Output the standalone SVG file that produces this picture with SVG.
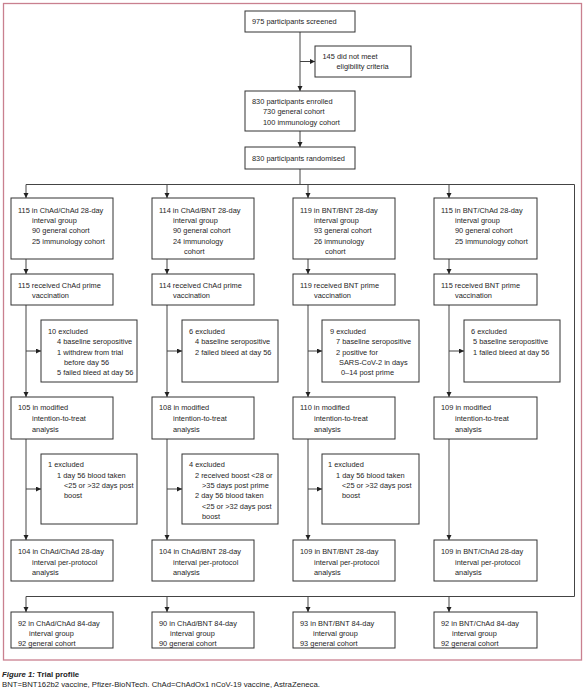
<svg xmlns="http://www.w3.org/2000/svg" width="586" height="690" viewBox="0 0 586 690">
<style>
  .bg{fill:#ffffff}
  .frame{fill:none;stroke:#c9808f;stroke-width:1.3}
  .box{fill:#ffffff;stroke:#333333;stroke-width:1}
  .t{font-family:"Liberation Sans",Arial,sans-serif;font-size:7.4px;fill:#1e1e1e}
  .c{fill:none;stroke:#444444;stroke-width:1}
  .cap{font-family:"Liberation Sans",Arial,sans-serif;font-size:7.75px;fill:#222222}
  .capb{font-family:"Liberation Sans",Arial,sans-serif;font-size:7.8px;font-weight:bold;fill:#222222}
</style>
<defs>
  <marker id="ah" markerUnits="userSpaceOnUse" markerWidth="6" markerHeight="6" refX="5" refY="2.5" orient="auto">
    <path d="M0,0 L5,2.5 L0,5 z" fill="#222222"/>
  </marker>
</defs>
<rect class="bg" x="0" y="0" width="586" height="690"/>
<rect class="frame" x="3.5" y="3.5" width="578" height="656.5"/>

<g id="connectors">
  <path class="c" d="M300,32 V91" marker-end="url(#ah)"/>
  <path class="c" d="M300,61.5 H315" marker-end="url(#ah)"/>
  <path class="c" d="M300,131 V147" marker-end="url(#ah)"/>
  <path class="c" d="M300,169 V184.5"/>
  <path class="c" d="M26,184.5 H574.5 V596.5 H26"/>
  <path class="c" d="M26,184.5 V198" marker-end="url(#ah)"/>
  <path class="c" d="M167,184.5 V198" marker-end="url(#ah)"/>
  <path class="c" d="M308,184.5 V198" marker-end="url(#ah)"/>
  <path class="c" d="M449,184.5 V198" marker-end="url(#ah)"/>
  <path class="c" d="M26,259 V274" marker-end="url(#ah)"/>
  <path class="c" d="M167,259 V274" marker-end="url(#ah)"/>
  <path class="c" d="M308,259 V274" marker-end="url(#ah)"/>
  <path class="c" d="M449,259 V274" marker-end="url(#ah)"/>
  <path class="c" d="M26,305 V397" marker-end="url(#ah)"/>
  <path class="c" d="M167,305 V397" marker-end="url(#ah)"/>
  <path class="c" d="M308,305 V397" marker-end="url(#ah)"/>
  <path class="c" d="M449,305 V397" marker-end="url(#ah)"/>
  <path class="c" d="M26,351 H41" marker-end="url(#ah)"/>
  <path class="c" d="M167,351 H182" marker-end="url(#ah)"/>
  <path class="c" d="M308,351 H322" marker-end="url(#ah)"/>
  <path class="c" d="M449,351 H464" marker-end="url(#ah)"/>
  <path class="c" d="M26,439 V540" marker-end="url(#ah)"/>
  <path class="c" d="M167,439 V540" marker-end="url(#ah)"/>
  <path class="c" d="M308,439 V540" marker-end="url(#ah)"/>
  <path class="c" d="M449,439 V540" marker-end="url(#ah)"/>
  <path class="c" d="M26,489 H41" marker-end="url(#ah)"/>
  <path class="c" d="M167,489 H182" marker-end="url(#ah)"/>
  <path class="c" d="M308,489 H322" marker-end="url(#ah)"/>
  <path class="c" d="M26,596.5 V612" marker-end="url(#ah)"/>
  <path class="c" d="M167,596.5 V612" marker-end="url(#ah)"/>
  <path class="c" d="M308,596.5 V612" marker-end="url(#ah)"/>
  <path class="c" d="M449,596.5 V612" marker-end="url(#ah)"/>
</g>

<g id="screened">
  <rect class="box" x="245" y="11" width="110" height="21"/>
  <text class="t" x="252" y="24">975 participants screened</text>
</g>
<g id="ineligible">
  <rect class="box" x="315" y="46" width="96" height="31"/>
  <text class="t" x="322.5" y="58.5">145 did not meet</text>
  <text class="t" x="336.5" y="68.8">eligibility criteria</text>
</g>
<g id="enrolled">
  <rect class="box" x="245" y="91" width="110" height="40"/>
  <text class="t" x="252" y="103.5">830 participants enrolled</text>
  <text class="t" x="263" y="114">730 general cohort</text>
  <text class="t" x="263" y="124.5">100 immunology cohort</text>
</g>
<g id="randomised">
  <rect class="box" x="245" y="147" width="110" height="22"/>
  <text class="t" x="252" y="161">830 participants randomised</text>
</g>

<!-- Column 1 -->
<g id="g1-group">
  <rect class="box" x="11" y="198" width="102" height="61"/>
  <text class="t" x="18" y="213">115 in ChAd/ChAd 28-day</text>
  <text class="t" x="32" y="223">interval group</text>
  <text class="t" x="32" y="233">90 general cohort</text>
  <text class="t" x="32" y="243.5">25 immunology cohort</text>
</g>
<g id="g1-prime">
  <rect class="box" x="11" y="274" width="102" height="31"/>
  <text class="t" x="18" y="288">115 received ChAd prime</text>
  <text class="t" x="32" y="298">vaccination</text>
</g>
<g id="g1-excl1">
  <rect class="box" x="41" y="320" width="96" height="62"/>
  <text class="t" x="48" y="333.5">10 excluded</text>
  <text class="t" x="57" y="344.3">4 baseline seropositive</text>
  <text class="t" x="57" y="354.5">1 withdrew from trial</text>
  <text class="t" x="64" y="364.7">before day 56</text>
  <text class="t" x="57" y="375">5 failed bleed at day 56</text>
</g>
<g id="g1-mitt">
  <rect class="box" x="11" y="397" width="102" height="42"/>
  <text class="t" x="18" y="410">105 in modified</text>
  <text class="t" x="32" y="421">intention-to-treat</text>
  <text class="t" x="32" y="431.5">analysis</text>
</g>
<g id="g1-excl2">
  <rect class="box" x="41" y="454" width="96" height="70"/>
  <text class="t" x="48" y="467">1 excluded</text>
  <text class="t" x="57" y="477.5">1 day 56 blood taken</text>
  <text class="t" x="64" y="488">&lt;25 or &gt;32 days post</text>
  <text class="t" x="64" y="498">boost</text>
</g>
<g id="g1-pp">
  <rect class="box" x="11" y="540" width="102" height="41"/>
  <text class="t" x="18" y="554">104 in ChAd/ChAd 28-day</text>
  <text class="t" x="32" y="564.5">interval per-protocol</text>
  <text class="t" x="32" y="574.5">analysis</text>
</g>
<g id="g1-84">
  <rect class="box" x="11" y="612" width="102" height="36"/>
  <text class="t" x="18" y="625.5">92 in ChAd/ChAd 84-day</text>
  <text class="t" x="29" y="636">interval group</text>
  <text class="t" x="18" y="646">92 general cohort</text>
</g>

<!-- Column 2 -->
<g id="g2-group">
  <rect class="box" x="152" y="198" width="102" height="61"/>
  <text class="t" x="159" y="213">114 in ChAd/BNT 28-day</text>
  <text class="t" x="173" y="223">interval group</text>
  <text class="t" x="173" y="233">90 general cohort</text>
  <text class="t" x="173" y="243.5">24 immunology</text>
  <text class="t" x="184" y="253.5">cohort</text>
</g>
<g id="g2-prime">
  <rect class="box" x="152" y="274" width="102" height="31"/>
  <text class="t" x="159" y="288">114 received ChAd prime</text>
  <text class="t" x="173" y="298">vaccination</text>
</g>
<g id="g2-excl1">
  <rect class="box" x="182" y="320" width="96" height="62"/>
  <text class="t" x="189" y="333.5">6 excluded</text>
  <text class="t" x="195" y="344.3">4 baseline seropositive</text>
  <text class="t" x="195" y="354.5">2 failed bleed at day 56</text>
</g>
<g id="g2-mitt">
  <rect class="box" x="152" y="397" width="102" height="42"/>
  <text class="t" x="159" y="410">108 in modified</text>
  <text class="t" x="173" y="421">intention-to-treat</text>
  <text class="t" x="173" y="431.5">analysis</text>
</g>
<g id="g2-excl2">
  <rect class="box" x="182" y="454" width="96" height="70"/>
  <text class="t" x="189" y="467">4 excluded</text>
  <text class="t" x="195" y="477.5">2 received boost &lt;28 or</text>
  <text class="t" x="202" y="488">&gt;35 days post prime</text>
  <text class="t" x="195" y="498">2 day 56 blood taken</text>
  <text class="t" x="202" y="508.5">&lt;25 or &gt;32 days post</text>
  <text class="t" x="202" y="518.5">boost</text>
</g>
<g id="g2-pp">
  <rect class="box" x="152" y="540" width="102" height="41"/>
  <text class="t" x="159" y="554">104 in ChAd/BNT 28-day</text>
  <text class="t" x="173" y="564.5">interval per-protocol</text>
  <text class="t" x="173" y="574.5">analysis</text>
</g>
<g id="g2-84">
  <rect class="box" x="152" y="612" width="102" height="36"/>
  <text class="t" x="159" y="625.5">90 in ChAd/BNT 84-day</text>
  <text class="t" x="170" y="636">interval group</text>
  <text class="t" x="159" y="646">90 general cohort</text>
</g>

<!-- Column 3 -->
<g id="g3-group">
  <rect class="box" x="293" y="198" width="102" height="61"/>
  <text class="t" x="300" y="213">119 in BNT/BNT 28-day</text>
  <text class="t" x="314" y="223">interval group</text>
  <text class="t" x="314" y="233">93 general cohort</text>
  <text class="t" x="314" y="243.5">26 immunology</text>
  <text class="t" x="325" y="253.5">cohort</text>
</g>
<g id="g3-prime">
  <rect class="box" x="293" y="274" width="102" height="31"/>
  <text class="t" x="300" y="288">119 received BNT prime</text>
  <text class="t" x="314" y="298">vaccination</text>
</g>
<g id="g3-excl1">
  <rect class="box" x="322" y="320" width="97" height="62"/>
  <text class="t" x="330" y="333.5">9 excluded</text>
  <text class="t" x="336" y="344.3">7 baseline seropositive</text>
  <text class="t" x="336" y="354.5">2 positive for</text>
  <text class="t" x="339" y="364.7">SARS-CoV-2 in days</text>
  <text class="t" x="341" y="375">0–14 post prime</text>
</g>
<g id="g3-mitt">
  <rect class="box" x="293" y="397" width="102" height="42"/>
  <text class="t" x="300" y="410">110 in modified</text>
  <text class="t" x="314" y="421">intention-to-treat</text>
  <text class="t" x="314" y="431.5">analysis</text>
</g>
<g id="g3-excl2">
  <rect class="box" x="322" y="454" width="97" height="70"/>
  <text class="t" x="328" y="467">1 excluded</text>
  <text class="t" x="336" y="477.5">1 day 56 blood taken</text>
  <text class="t" x="342" y="488">&lt;25 or &gt;32 days post</text>
  <text class="t" x="342" y="498">boost</text>
</g>
<g id="g3-pp">
  <rect class="box" x="293" y="540" width="102" height="41"/>
  <text class="t" x="300" y="554">109 in BNT/BNT 28-day</text>
  <text class="t" x="314" y="564.5">interval per-protocol</text>
  <text class="t" x="314" y="574.5">analysis</text>
</g>
<g id="g3-84">
  <rect class="box" x="293" y="612" width="102" height="36"/>
  <text class="t" x="300" y="625.5">93 in BNT/BNT 84-day</text>
  <text class="t" x="313" y="636">interval group</text>
  <text class="t" x="300" y="646">93 general cohort</text>
</g>

<!-- Column 4 -->
<g id="g4-group">
  <rect class="box" x="434" y="198" width="103" height="61"/>
  <text class="t" x="441" y="213">115 in BNT/ChAd 28-day</text>
  <text class="t" x="455" y="223">interval group</text>
  <text class="t" x="455" y="233">90 general cohort</text>
  <text class="t" x="455" y="243.5">25 immunology cohort</text>
</g>
<g id="g4-prime">
  <rect class="box" x="434" y="274" width="103" height="31"/>
  <text class="t" x="441" y="288">115 received BNT prime</text>
  <text class="t" x="455" y="298">vaccination</text>
</g>
<g id="g4-excl1">
  <rect class="box" x="464" y="320" width="96" height="62"/>
  <text class="t" x="471" y="333.5">6 excluded</text>
  <text class="t" x="473" y="344.3">5 baseline seropositive</text>
  <text class="t" x="473" y="354.5">1 failed bleed at day 56</text>
</g>
<g id="g4-mitt">
  <rect class="box" x="434" y="397" width="103" height="42"/>
  <text class="t" x="441" y="410">109 in modified</text>
  <text class="t" x="455" y="421">intention-to-treat</text>
  <text class="t" x="455" y="431.5">analysis</text>
</g>
<g id="g4-pp">
  <rect class="box" x="434" y="540" width="103" height="41"/>
  <text class="t" x="441" y="554">109 in BNT/ChAd 28-day</text>
  <text class="t" x="455" y="564.5">interval per-protocol</text>
  <text class="t" x="455" y="574.5">analysis</text>
</g>
<g id="g4-84">
  <rect class="box" x="434" y="612" width="103" height="36"/>
  <text class="t" x="441" y="625.5">92 in BNT/ChAd 84-day</text>
  <text class="t" x="452" y="636">interval group</text>
  <text class="t" x="441" y="646">92 general cohort</text>
</g>

<g id="caption">
  <text class="capb" x="2" y="676.5"><tspan font-style="italic">Figure 1:</tspan> Trial profile</text>
  <text class="cap" x="2" y="687">BNT=BNT162b2 vaccine, Pfizer-BioNTech. ChAd=ChAdOx1 nCoV-19 vaccine, AstraZeneca.</text>
</g>
</svg>
